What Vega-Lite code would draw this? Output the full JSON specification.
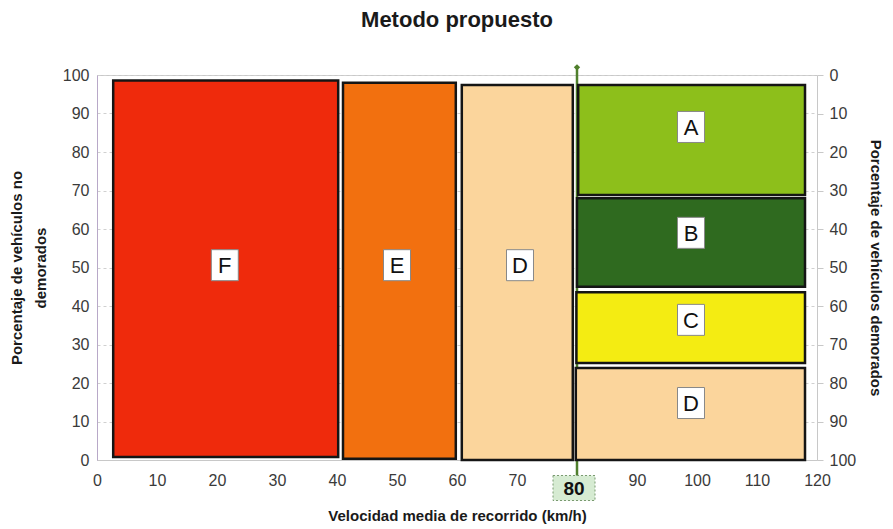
{
  "$schema": "https://vega.github.io/schema/vega-lite/v6.json",
  "autosize": "none",
  "width": 720,
  "height": 385,
  "padding": {"left": 97, "top": 75, "right": 76, "bottom": 69},
  "background": "white",
  "config": {
    "font": "Liberation Sans",
    "view": {"stroke": "#c8c8c8", "strokeWidth": 1},
    "axisY": {"tickCount": 11, "labelOverlap": false, "labelFlush": false, "labelFontSize": 16, "labelColor": "#3a3a3a",
      "titleFontSize": 15, "titleFontWeight": "bold", "titleColor": "#1a1a1a"}
  },
  "title": {"text": "Metodo propuesto", "fontSize": 22, "fontWeight": "bold", "color": "#1a1a1a", "offset": 32, "anchor": "middle"},
  "datasets": {
    "left": [
      {"zona": "F", "x1": 2.7, "x2": 40.2, "y1": 0.8, "y2": 98.6, "lx": 21.3, "ly": 50.6},
      {"zona": "E", "x1": 41.0, "x2": 59.8, "y1": 0.3, "y2": 98.0, "lx": 50.0, "ly": 50.6},
      {"zona": "D", "x1": 60.8, "x2": 79.3, "y1": 0.0, "y2": 97.4, "lx": 70.5, "ly": 50.6}
    ],
    "right": [
      {"zona": "A", "nivel": "A", "x1": 80.2, "x2": 118.0, "r1": 2.6, "r2": 31.2, "lx": 99.0, "ly": 13.5},
      {"zona": "B", "nivel": "B", "x1": 80.0, "x2": 118.0, "r1": 32.0, "r2": 55.0, "lx": 99.0, "ly": 41.0},
      {"zona": "C", "nivel": "C", "x1": 79.9, "x2": 118.0, "r1": 56.4, "r2": 74.8, "lx": 99.0, "ly": 63.6},
      {"zona": "D2", "nivel": "D", "x1": 79.8, "x2": 118.0, "r1": 76.1, "r2": 100.0, "lx": 99.0, "ly": 85.2}
    ],
    "marker": [{"v": 80, "label": "80"}]
  },
  "layer": [
    {
      "layer": [
        {
          "data": {"name": "left"},
          "mark": {"type": "rect", "stroke": "#151515", "strokeWidth": 2.5},
          "encoding": {
            "x": {"field": "x1", "type": "quantitative", "scale": {"domain": [0, 120], "nice": false},
              "axis": {"title": "Velocidad media de recorrido (km/h)", "values": [0,10,20,30,40,50,60,70,80,90,100,110,120],
                "labelExpr": "datum.value == 80 ? '' : datum.label", "labelFontSize": 16, "labelColor": "#3a3a3a",
                "labelPadding": 12, "labelOverlap": false, "labelFlush": false, "ticks": false, "domainColor": "#c8c8c8", "grid": false,
                "titleFontSize": 15, "titleFontWeight": "bold", "titleColor": "#1a1a1a", "titlePadding": 20}},
            "x2": {"field": "x2"},
            "y": {"field": "y1", "type": "quantitative", "scale": {"domain": [0, 100], "nice": false},
              "axis": {"title": ["Porcentaje de vehículos no", "demorados"], "values": [0,10,20,30,40,50,60,70,80,90,100],
                "labelPadding": 8, "ticks": false,
                "domainColor": "#b8a8c8", "grid": true, "gridColor": "#d0d0d0", "gridDash": [3, 3],
                "titlePadding": 14, "titleLineHeight": 24}},
            "y2": {"field": "y2"},
            "color": {"field": "zona", "type": "nominal", "legend": null,
              "scale": {"domain": ["F", "E", "D"], "range": ["#ef2a0c", "#f2700f", "#fbd59c"]}}
          }
        },
        {
          "data": {"name": "left"},
          "mark": {"type": "point", "shape": "M-0.87,-1H0.87V1H-0.87Z", "size": 961, "filled": true, "fill": "white", "stroke": "#888888", "strokeWidth": 1, "opacity": 1},
          "encoding": {
            "x": {"field": "lx", "type": "quantitative"},
            "y": {"field": "ly", "type": "quantitative"}
          }
        },
        {
          "data": {"name": "left"},
          "mark": {"type": "text", "fontSize": 22, "color": "#111111", "baseline": "middle", "align": "center", "dy": 1},
          "encoding": {
            "x": {"field": "lx", "type": "quantitative"},
            "y": {"field": "ly", "type": "quantitative"},
            "text": {"field": "zona"}
          }
        },
        {
          "data": {"name": "marker"},
          "mark": {"type": "rule", "color": "#4f7f2c", "strokeWidth": 2.5},
          "encoding": {
            "x": {"field": "v", "type": "quantitative"},
            "y": {"datum": -7},
            "y2": {"datum": 102}
          }
        },
        {
          "data": {"name": "marker"},
          "mark": {"type": "point", "shape": "diamond", "size": 40, "filled": true, "color": "#4f7f2c", "opacity": 1},
          "encoding": {
            "x": {"field": "v", "type": "quantitative"},
            "y": {"datum": 102}
          }
        },
        {
          "data": {"name": "marker"},
          "mark": {"type": "point", "shape": "M-1.68,-1H1.68V1H-1.68Z", "size": 625, "filled": true, "fill": "#d6ebd2", "stroke": "#7a9a70", "strokeDash": [2, 2], "strokeWidth": 1, "opacity": 1, "yOffset": 28, "xOffset": -3},
          "encoding": {
            "x": {"field": "v", "type": "quantitative"},
            "y": {"datum": 0}
          }
        },
        {
          "data": {"name": "marker"},
          "mark": {"type": "text", "fontSize": 19, "fontWeight": "bold", "color": "#111111", "baseline": "middle", "align": "center", "dy": 29, "dx": -3},
          "encoding": {
            "x": {"field": "v", "type": "quantitative"},
            "y": {"datum": 0},
            "text": {"field": "label"}
          }
        }
      ]
    },
    {
      "layer": [
        {
          "data": {"name": "right"},
          "mark": {"type": "rect", "stroke": "#151515", "strokeWidth": 2.5},
          "encoding": {
            "x": {"field": "x1", "type": "quantitative"},
            "x2": {"field": "x2"},
            "y": {"field": "r1", "type": "quantitative", "scale": {"domain": [0, 100], "nice": false, "reverse": true},
              "axis": {"orient": "right", "title": "Porcentaje de vehículos demorados", "values": [0,10,20,30,40,50,60,70,80,90,100],
                "labelPadding": 6, "ticks": true, "tickSize": 6, "tickColor": "#c8c8c8",
                "domain": false, "grid": false, "titlePadding": 12}},
            "y2": {"field": "r2"},
            "color": {"field": "zona", "type": "nominal", "legend": null,
              "scale": {"domain": ["A", "B", "C", "D2"], "range": ["#8dbf1b", "#2f6a1f", "#f4ec12", "#fbd59c"]}}
          }
        },
        {
          "data": {"name": "right"},
          "mark": {"type": "point", "shape": "M-0.87,-1H0.87V1H-0.87Z", "size": 961, "filled": true, "fill": "white", "stroke": "#888888", "strokeWidth": 1, "opacity": 1},
          "encoding": {
            "x": {"field": "lx", "type": "quantitative"},
            "y": {"field": "ly", "type": "quantitative"}
          }
        },
        {
          "data": {"name": "right"},
          "mark": {"type": "text", "fontSize": 22, "color": "#111111", "baseline": "middle", "align": "center", "dy": 1},
          "encoding": {
            "x": {"field": "lx", "type": "quantitative"},
            "y": {"field": "ly", "type": "quantitative"},
            "text": {"field": "nivel", "type": "nominal"}
          }
        }
      ]
    }
  ],
  "resolve": {"scale": {"y": "independent", "color": "independent"}, "axis": {"y": "independent"}}
}
